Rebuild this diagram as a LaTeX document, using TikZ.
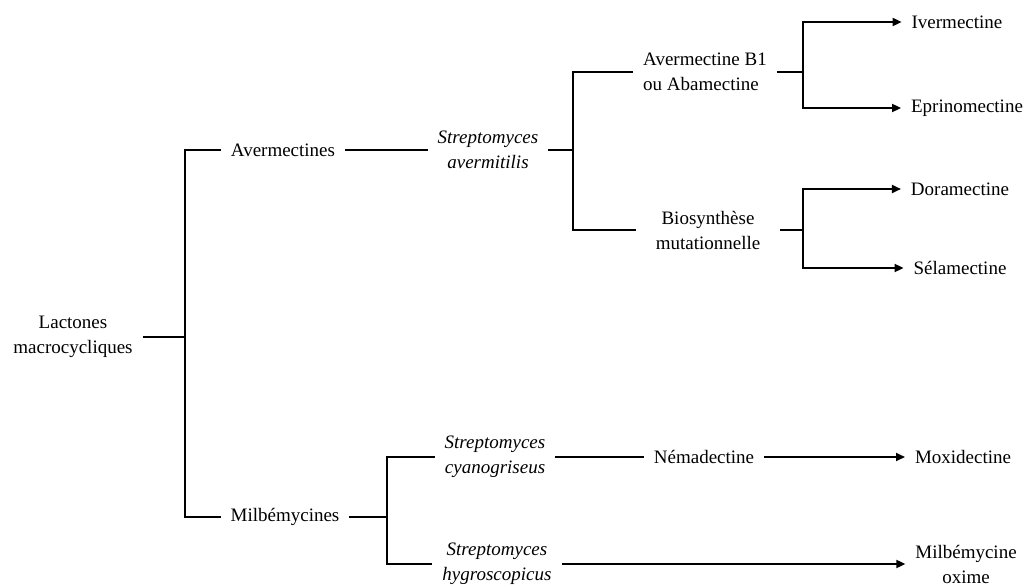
\documentclass[tikz,border=0pt]{standalone}
\usepackage{fontspec}
\setmainfont{Liberation Serif}
\usetikzlibrary{arrows.meta}

\begin{document}
\begin{tikzpicture}[x=0.5pt, y=-0.5pt,
    every node/.style={font=\fontsize{9.5}{12.5}\selectfont, inner sep=0pt, outer sep=5pt, align=center},
    species/.style={font=\fontsize{9.5}{12.5}\selectfont\itshape},
    link/.style={line width=0.9pt},
    arrow/.style={link, -{Triangle[length=4.5pt, width=4pt]}}]
    \useasboundingbox (0,0) rectangle (1032,588);
    % level 0 and 1
    \node (lact) at (73,337) {Lactones\\macrocycliques};
    \node (aver) at (283,150) {Avermectines};
    \node (milb) at (285,517) {Milbémycines};
    % avermectines branch
    \node[species] (savr) at (488,150) {Streptomyces\\avermitilis};
    \node[align=left] (abam) at (705,72) {Avermectine B1\\ou Abamectine};
    \node[outer sep=10pt] (bios) at (708,230) {Biosynthèse\\mutationnelle};
    \node (iver) at (957,22) {Ivermectine};
    \node (epri) at (967,108) {Eprinomectine};
    \node (dora) at (960,189) {Doramectine};
    \node (sela) at (960,268) {Sélamectine};
    % milbemycines branch
    \node[species] (scya) at (495,457) {Streptomyces\\cyanogriseus};
    \node[species] (shyg) at (497,564) {Streptomyces\\hygroscopicus};
    \node (nema) at (704,457) {Némadectine};
    \node (moxi) at (963,457) {Moxidectine};
    \node (oxim) at (966,564) {Milbémycine\\oxime};
    % junctions
    \coordinate (jroot) at (185,337);
    \coordinate (jsav) at (573,150);
    \coordinate (jabam) at (803,72);
    \coordinate (jbios) at (803,230);
    \coordinate (jmilb) at (387,517);
    % connectors
    \draw[link] (lact.east) -- (jroot);
    \draw[link] (aver.west) -| (jroot) |- (milb.west);
    \draw[link] (aver.east) -- (savr.west);
    \draw[link] (savr.east) -- (jsav);
    \draw[link] (abam.west) -| (jsav) |- (bios.west);
    \draw[link] (abam.east) -- (jabam);
    \draw[link] (bios.east) -- (jbios);
    \draw[arrow] (jabam) |- (iver.west);
    \draw[arrow] (jabam) |- (epri.west);
    \draw[arrow] (jbios) |- (dora.west);
    \draw[arrow] (jbios) |- (sela.west);
    \draw[link] (milb.east) -- (jmilb);
    \draw[link] (scya.west) -| (jmilb) |- (shyg.west);
    \draw[link] (scya.east) -- (nema.west);
    \draw[arrow] (nema.east) -- (moxi.west);
    \draw[arrow] (shyg.east) -- (oxim.west);
\end{tikzpicture}
\end{document}
